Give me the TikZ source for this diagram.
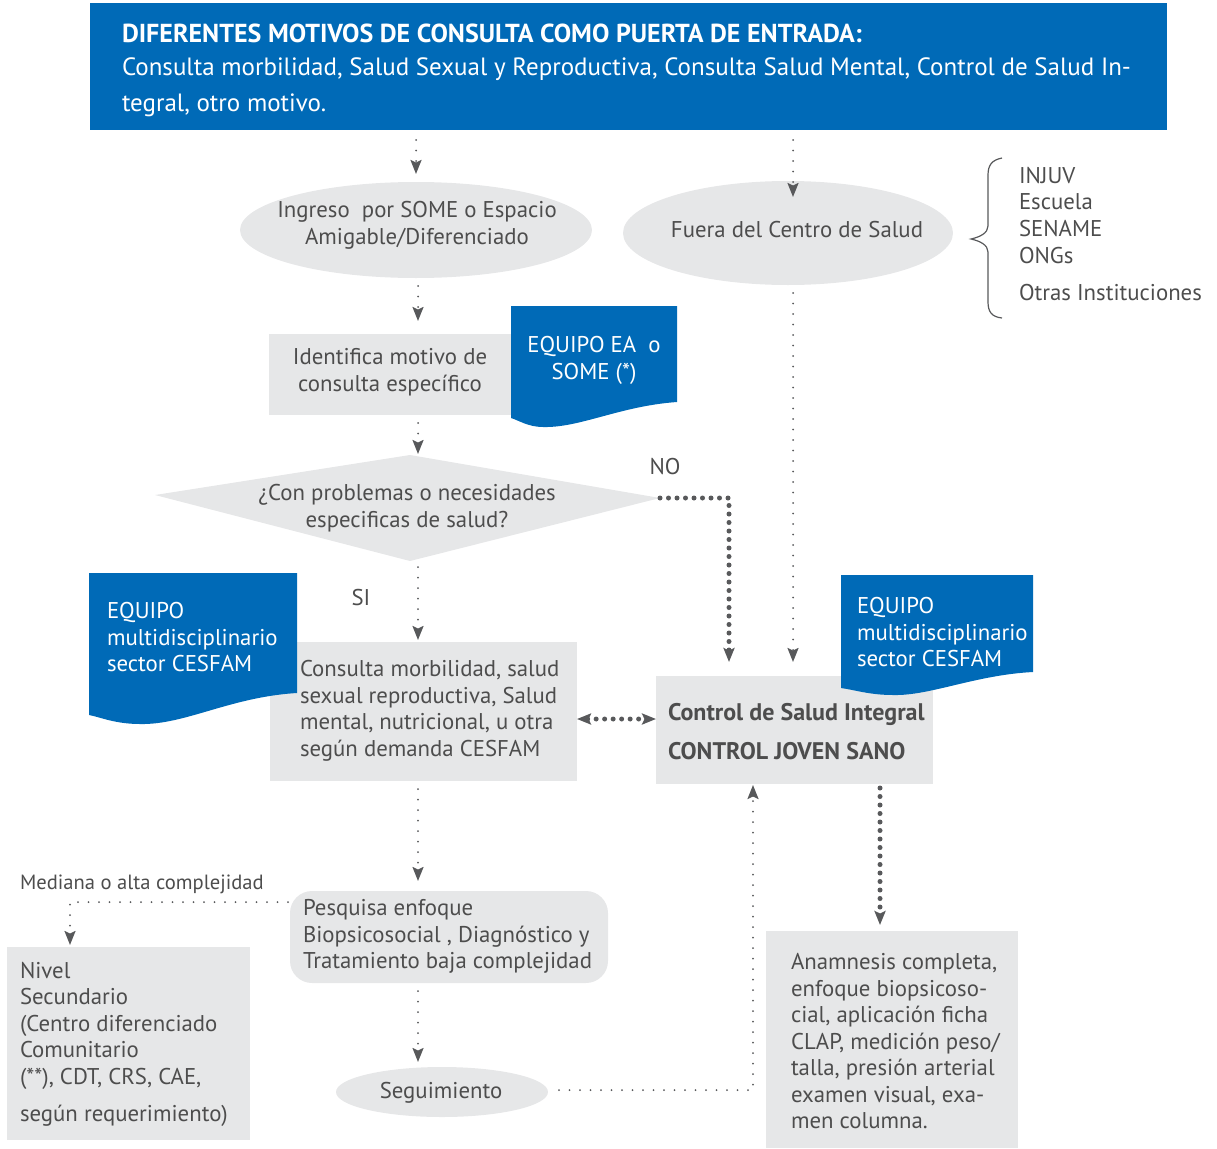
\documentclass[tikz,border=0pt]{standalone}
\usepackage{fontspec}
\setmainfont{PT Sans}
\usetikzlibrary{arrows.meta,shapes.geometric,calc}
\definecolor{cblue}{RGB}{0,106,183}
\definecolor{cgray}{RGB}{230,231,232}
\definecolor{ctext}{RGB}{77,77,77}
\definecolor{cline}{RGB}{88,89,91}
\begin{document}
\begin{tikzpicture}[x=1pt,y=-1pt,
  every node/.style={font=\fontsize{22.8}{26.5}\selectfont, text=ctext, inner sep=0pt, outer sep=0pt},
  greybox/.style={fill=cgray, draw=none, anchor=north west},
  greyell/.style={ellipse, fill=cgray, draw=none},
  bluetxt/.style={text=white, align=left, anchor=west},
  bodytxt/.style={align=left, anchor=west},
  thindot/.style={draw=cline, line width=2pt, line cap=round, dash pattern=on 0pt off 10.5pt},
  thickdot/.style={draw=cline, line width=5pt, line cap=round, dash pattern=on 0pt off 8.5pt},
  tip/.style={-{Stealth[length=14pt,width=11pt,inset=2.5pt]}},
  tips/.style={{Stealth[length=14pt,width=11pt,inset=2.5pt]}-{Stealth[length=14pt,width=11pt,inset=2.5pt]}},
]
\useasboundingbox (0,0) rectangle (1217,1148);

% banner
\node[fill=cblue, minimum width=1077pt, minimum height=127pt, anchor=north west] (banner) at (90,3) {};
\node[text=white, anchor=base west, font=\fontsize{26}{26}\selectfont\bfseries] (bt1) at (122,42) {DIFERENTES MOTIVOS DE CONSULTA COMO PUERTA DE ENTRADA:};
\node[text=white, anchor=base west, font=\fontsize{25}{26}\selectfont] (bt2) at (122,75) {Consulta morbilidad, Salud Sexual y Reproductiva, Consulta Salud Mental, Control de Salud In-};
\node[text=white, anchor=base west, font=\fontsize{25}{26}\selectfont] (bt3) at (122,111) {tegral, otro motivo.};

% ellipses top
\node[greyell, minimum width=352pt, minimum height=96pt] (ing) at (416,230) {};
\node[align=center] (ingt) at (417,225.5) {Ingreso\ \ por SOME o Espacio\\Amigable/Diferenciado};
\node[greyell, minimum width=330pt, minimum height=104pt] (fuera) at (788,233) {};
\node (fuerat) at (797,230) {Fuera del Centro de Salud};

% brace and list
\draw[cline, line width=1.2pt] (1002,158) .. controls (992,160) and (988,165) .. (988,175) -- (988,226) .. controls (988,233) and (980,237) .. (971,239) .. controls (980,241) and (988,245) .. (988,252) -- (988,302) .. controls (988,312) and (992,317) .. (1002,318);
\node[anchor=west] (l1) at (1019,176) {INJUV};
\node[anchor=west] (l2) at (1019,202) {Escuela};
\node[anchor=west] (l3) at (1019,229) {SENAME};
\node[anchor=west] (l4) at (1019,256) {ONGs};
\node[anchor=west] (l5) at (1019,293) {Otras Instituciones};

% identifica + doc
\node[greybox, minimum width=243pt, minimum height=81pt] (ident) at (269,334) {};
\node[align=center] (identt) at (390,372) {Identifica motivo de\\consulta específico};
\fill[cblue] (511,306) -- (677,306) -- (677,402) .. controls (620,406) and (580,428) .. (543,427) .. controls (528,427) and (518,420) .. (511,418) -- cycle;
\node[text=white, align=center] (doc1) at (594,360.5) {EQUIPO EA\ \ o\\SOME (*)};

% diamond
\coordinate (dtop) at (410,455);
\coordinate (dright) at (660,498);
\coordinate (dbot) at (410,561);
\coordinate (dleft) at (155,495);
\fill[cgray] (dtop) -- (dright) -- (dbot) -- (dleft) -- cycle;
\node[align=center] (diat) at (407,508) {¿Con problemas o necesidades\\especificas de salud?};
\node (no) at (665,467) {NO};
\node (si) at (361,598) {SI};

% consulta + left doc
\node[greybox, minimum width=307pt, minimum height=139pt] (cons) at (270,642) {};
\node[bodytxt] (const) at (300,711) {Consulta morbilidad, salud\\sexual reproductiva, Salud\\mental, nutricional, u otra\\según demanda CESFAM};
\fill[cblue] (89,573) -- (297,573) -- (297,693) .. controls (230,697) and (185,725) .. (140,724) .. controls (115,724) and (100,717) .. (89,715) -- cycle;
\node[bluetxt] (doc2) at (107,637.5) {EQUIPO\\multidisciplinario\\sector CESFAM};

% control + right doc
\node[greybox, minimum width=277pt, minimum height=108pt] (ctrl) at (656,676) {};
\node[anchor=west, font=\fontsize{24}{26}\selectfont\bfseries] (ctrl1) at (668,714) {Control de Salud Integral};
\node[anchor=west, font=\fontsize{24}{26}\selectfont\bfseries] (ctrl2) at (668,751) {CONTROL JOVEN SANO};
\fill[cblue] (841,575) -- (1033,575) -- (1033,672) .. controls (975,675) and (930,696) .. (893,695) .. controls (870,695) and (855,690) .. (841,688) -- cycle;
\node[bluetxt] (doc3) at (857,632.5) {EQUIPO\\multidisciplinario\\sector CESFAM};

% pesquisa
\node[greybox, rounded corners=22pt, minimum width=318pt, minimum height=92pt] (pesq) at (290,891) {};
\node[bodytxt] (pesqt) at (303,936.5) {Pesquisa enfoque\\Biopsicosocial , Diagnóstico y\\Tratamiento baja complejidad};

% nivel
\node[greybox, minimum width=243pt, minimum height=193pt] (nivel) at (7,947) {};
\node[bodytxt] (nivelt) at (20,1025.5) {Nivel\\Secundario\\(Centro diferenciado\\Comunitario\\(**), CDT, CRS, CAE,};
\node[bodytxt] (nivelt2) at (20,1116) {según requerimiento)};
\node[anchor=west, font=\fontsize{20.6}{22}\selectfont] (med) at (20,884) {Mediana o alta complejidad};

% seguimiento
\node[greyell, minimum width=212pt, minimum height=50pt] (seg) at (442,1092) {};
\node (segt) at (441,1093) {Seguimiento};

% anamnesis
\node[greybox, minimum width=252pt, minimum height=217pt] (anam) at (766,931) {};
\node[bodytxt] (anamt) at (791,1041.5) {Anamnesis completa,\\enfoque biopsicoso-\\cial, aplicación ficha\\CLAP, medición peso/\\talla, presión arterial\\examen visual, exa-\\men columna.};

% connectors
\coordinate (colx) at (418,0);
\draw[thindot, tip] (banner.south -| ing.north) ++(0,10) -- ($(ing.north)+(0,-8)$);
\draw[thindot, tip] (banner.south -| 793,0) ++(0,10) -- (793,197);
\draw[thindot, tip] (ing.south -| colx) ++(0,8) -- ($(ident.north -| colx)+(0,-13)$);
\draw[thindot, tip] (ident.south -| colx) ++(0,8) -- ($(dtop -| colx)+(0,-1)$);
\draw[thindot, tip] (dbot -| colx) ++(0,6) -- ($(cons.north -| colx)+(0,-2)$);
\coordinate (nocorner) at (729,498);
\draw[thickdot, tip] (dright) -- (nocorner) -- ($(nocorner |- ctrl.north)+(0,-14)$);
\draw[thindot, tip] (fuera.south -| 793,0) ++(0,8) -- ($(ctrl.north -| 793,0)+(0,-14)$);
\draw[thickdot, tips] (cons.east |- 0,719) -- (ctrl.west |- 0,719);
\draw[thindot, tip] (cons.south -| colx) ++(0,8) -- ($(pesq.north -| colx)+(0,-10)$);
\coordinate (mcorner) at (70,902);
\draw[thindot, tip] ($(pesq.north west)+(-2,11)$) -- (mcorner) -- ($(mcorner |- nivel.north)+(0,-2)$);
\draw[thindot, tip] (pesq.south -| colx) ++(0,8) -- ($(seg.north -| colx)+(0,-5)$);
\coordinate (scorner) at (753,1090);
\draw[thindot, tip] ($(seg.east)+(11,-2)$) -- (scorner) -- ($(scorner |- ctrl.south)+(0,1)$);
\draw[thickdot, tip] ($(ctrl.south -| 880,0)+(0,4)$) -- ($(anam.north -| 880,0)+(0,-6)$);
\end{tikzpicture}
\end{document}
